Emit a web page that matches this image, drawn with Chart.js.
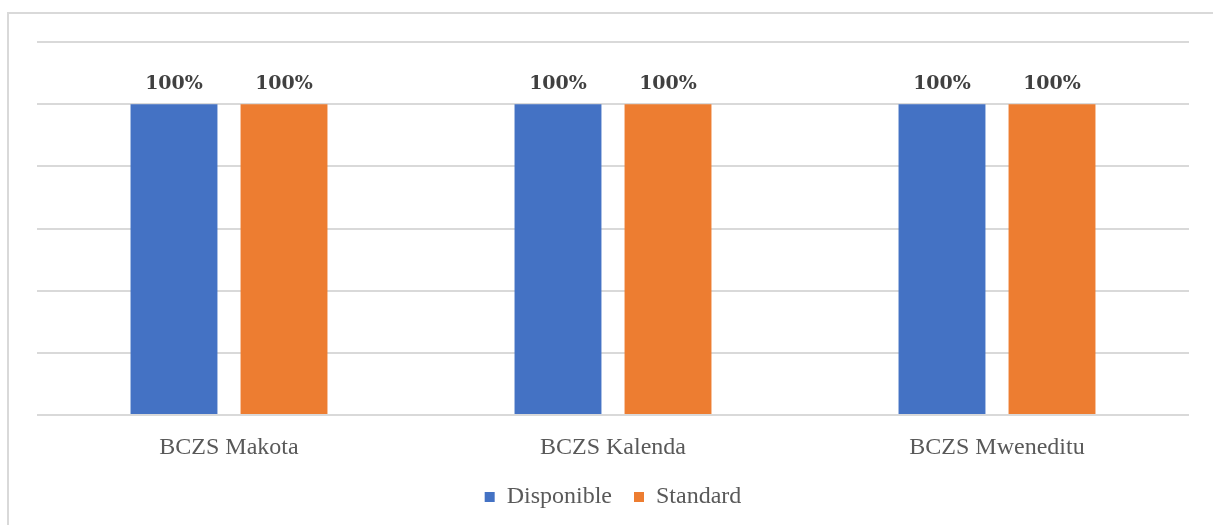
<!DOCTYPE html>
<html>
<head>
<meta charset="utf-8">
<script src="https://cdn.jsdelivr.net/npm/chart.js@4.4.1/dist/chart.umd.min.js"></script>
<style>
  html, body { margin: 0; padding: 0; background: #fff; }
  #wrap { position: relative; width: 1213px; height: 525px; overflow: hidden; }
  #frame { position: absolute; left: 7px; top: 12px; width: 1300px; height: 600px;
           border-left: 2px solid #d9d9d9; border-top: 2px solid #d9d9d9; box-sizing: border-box; }
  canvas { position: absolute; left: 0; top: 0; }
</style>
</head>
<body>
<div id="wrap">
  <div id="frame"></div>
  <canvas id="c" width="1213" height="525"></canvas>
</div>
<script>
const categories = ['BCZS Makota', 'BCZS Kalenda', 'BCZS Mweneditu'];
const disponible = [1.0, 1.0, 1.0];
const standard = [1.0, 1.0, 1.0];
const seriesNames = ['Disponible', 'Standard'];

// Percent label above each bar, taken from the bar's own value
const valueLabels = {
  id: 'valueLabels',
  afterDatasetsDraw(chart) {
    const ctx = chart.ctx;
    ctx.save();
    ctx.font = 'bold 19px "DejaVu Serif"';
    ctx.fillStyle = '#404040';
    ctx.textAlign = 'center';
    ctx.textBaseline = 'middle';
    chart.data.datasets.forEach((ds, i) => {
      chart.getDatasetMeta(i).data.forEach((bar, j) => {
        const txt = Math.round(ds.data[j] * 100) + '%';
        ctx.fillText(txt, bar.x, bar.y - 20.5);
      });
    });
    ctx.restore();
  }
};

// Fixed legend box height so the legend row sits at a set distance below the axis
const legendHeight = {
  id: 'legendHeight',
  beforeLayout(chart) {
    const lg = chart.legend;
    if (lg && !lg._fixedFit) {
      const fit = lg.fit.bind(lg);
      lg.fit = function () { fit(); this.height = 60; };
      lg._fixedFit = true;
    }
  }
};

new Chart(document.getElementById('c'), {
  type: 'bar',
  data: {
    labels: categories,
    datasets: [
      { label: seriesNames[0], data: disponible, backgroundColor: '#4472C4',
        categoryPercentage: 0.573, barPercentage: 0.79 },
      { label: seriesNames[1], data: standard, backgroundColor: '#ED7D31',
        categoryPercentage: 0.573, barPercentage: 0.79 }
    ]
  },
  options: {
    responsive: false,
    animation: false,
    layout: { padding: { left: 37, right: 24, top: 42, bottom: 2 } },
    scales: {
      y: {
        min: 0, max: 1.2,
        ticks: { display: false, stepSize: 0.2 },
        border: { display: false },
        grid: { color: '#d9d9d9', lineWidth: 2, drawTicks: false }
      },
      x: {
        border: { display: false },
        grid: { display: false, drawTicks: false },
        ticks: { color: '#595959', padding: 18,
                 font: { family: '"Liberation Serif"', size: 24 } },
        afterFit(axis) { axis.height = 48; }
      }
    },
    plugins: {
      legend: {
        position: 'bottom',
        labels: { boxWidth: 10, boxHeight: 10, padding: 22, color: '#595959',
                  font: { family: '"Liberation Serif"', size: 24 } }
      },
      tooltip: { enabled: false }
    }
  },
  plugins: [valueLabels, legendHeight]
});
</script>
</body>
</html>
